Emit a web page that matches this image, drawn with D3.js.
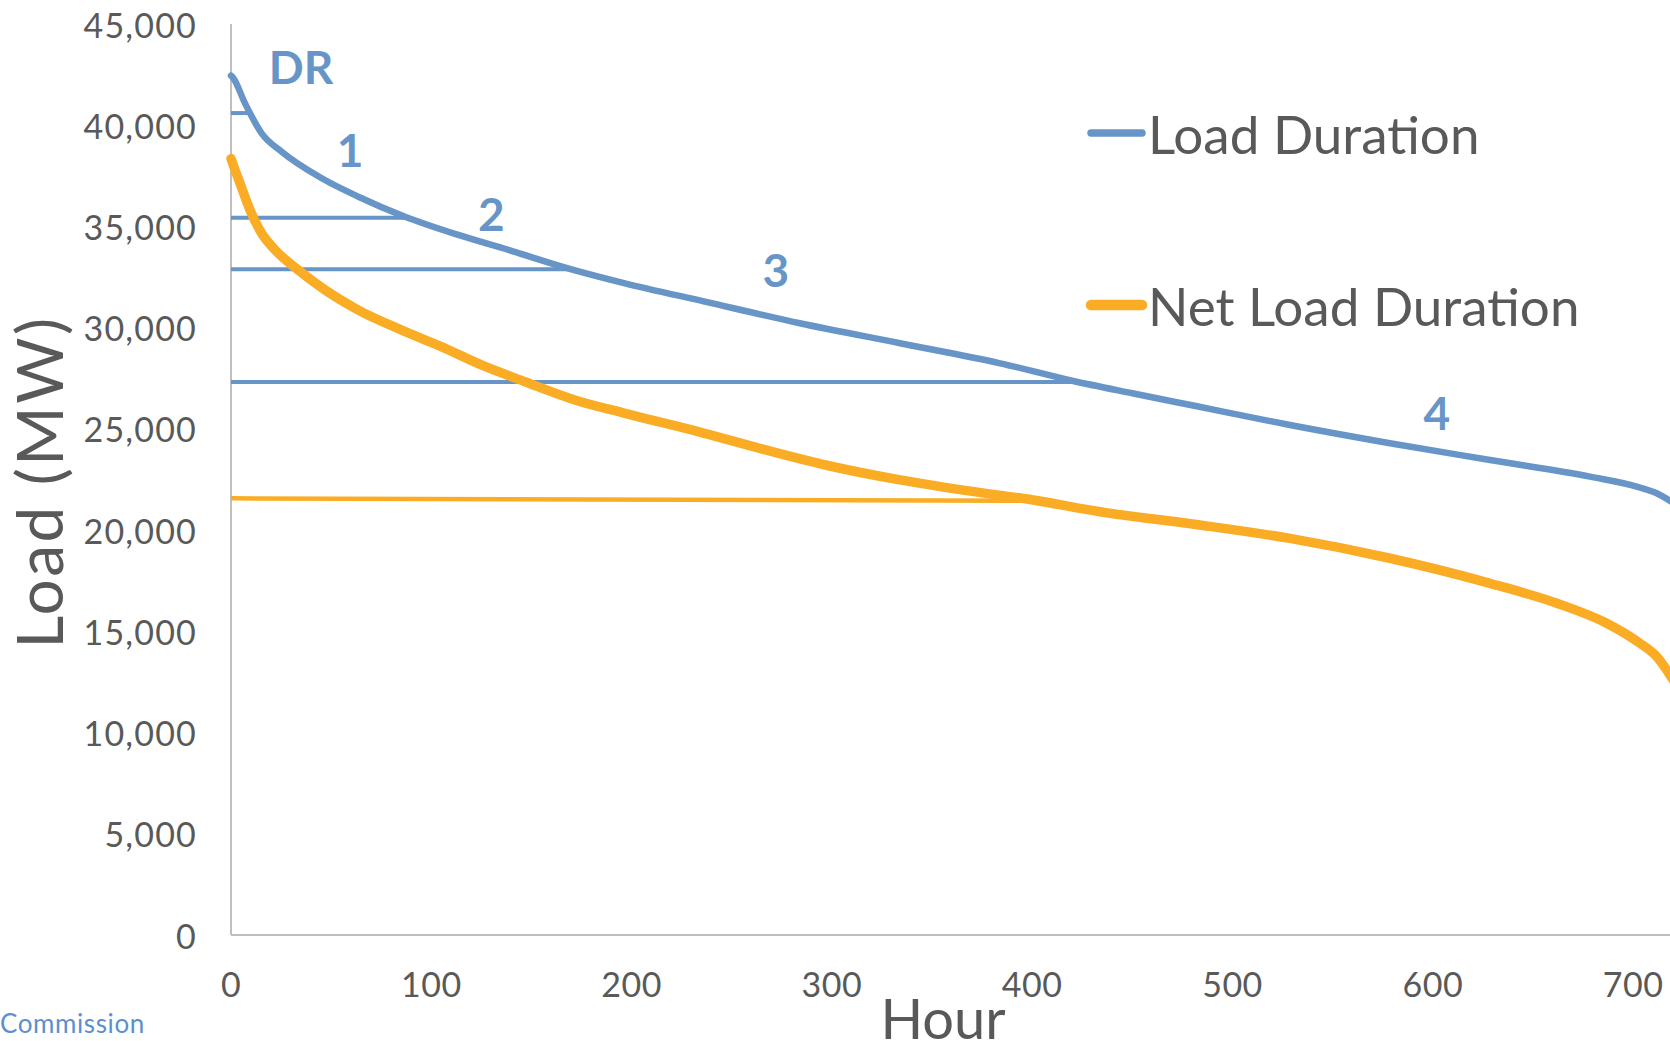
<!DOCTYPE html>
<html>
<head>
<meta charset="utf-8">
<script src="https://cdn.jsdelivr.net/npm/d3@7"></script>
<style>
  html, body { margin: 0; padding: 0; background: #ffffff; overflow: hidden; }
  svg { display: block; }
</style>
</head>
<body>
<svg id="chart" width="1670" height="1041"></svg>
<script>
// ---------------- DATA ----------------
const yTicks = [0, 5000, 10000, 15000, 20000, 25000, 30000, 35000, 40000, 45000];
const xTicks = [0, 100, 200, 300, 400, 500, 600, 700];

const loadHours = [0, 1.2, 7, 15.3, 25.3, 45.3, 63.6, 86.9, 113.5, 138.5, 170, 196.7, 236, 284, 334, 384, 420, 450, 481, 528.7, 578.6, 628.6, 678.5, 701.8, 711.8, 720];
const loadMW    = [42450, 42320, 41080, 39600, 38690, 37380, 36470, 35480, 34580, 33840, 32880, 32190, 31300, 30220, 29230, 28240, 27380, 26760, 26140, 25190, 24290, 23460, 22640, 22150, 21820, 21350];

const netHours = [0, 1.6, 4.5, 9.5, 15.3, 22, 33.6, 47, 63.6, 85, 105, 125, 146.8, 171.7, 196.7, 235, 267.4, 300.7, 334, 367.3, 400.5, 433.8, 481, 528.7, 578.6, 628.6, 661.9, 686.8, 703.4, 711.8, 720];
const netMW    = [38350, 37900, 37130, 35810, 34660, 33840, 32850, 31860, 30870, 29890, 29060, 28160, 27330, 26430, 25770, 24820, 23950, 23130, 22480, 21950, 21490, 20910, 20290, 19590, 18610, 17370, 16390, 15400, 14410, 13750, 12600];

// DR / tier threshold lines on the load duration curve
const tierMW      = [40600, 35430, 32880, 27310];
const tierEndHour = [9, 88, 170, 422];
// threshold on the net load duration curve
const netTierMW    = [21570, 21450];
const netTierHours = [0, 404];

// tier labels
const tierLabels    = ["DR", "1", "2", "3", "4"];
const tierLabelHour = [35, 59.5, 130, 272, 602];
const tierLabelMW   = [42900, 38800, 35650, 32850, 25800];

const seriesNames = ["Load Duration", "Net Load Duration"];

// ---------------- LAYOUT ----------------
const BLUE = "#6795c8";
const ORANGE = "#f9ac24";
const TEXT = "#595959";
const AXIS = "#bfbfbf";
const FONT = "Lato, 'Open Sans', sans-serif";

const svg = d3.select("#chart");
const x = d3.scaleLinear().domain([0, 720]).range([231, 231 + 720 * 2.003]);
const y = d3.scaleLinear().domain([0, 45000]).range([935, 24]);

// axes lines
svg.append("line").attr("x1", x(0)).attr("x2", 1670).attr("y1", y(0)).attr("y2", y(0))
  .attr("stroke", AXIS).attr("stroke-width", 2);
svg.append("line").attr("x1", x(0)).attr("x2", x(0)).attr("y1", y(0)).attr("y2", y(45000))
  .attr("stroke", AXIS).attr("stroke-width", 2);

// y tick labels
const fmt = d3.format(",");
svg.append("g").selectAll("text").data(yTicks).join("text")
  .attr("x", 197).attr("y", d => y(d))
  .attr("text-anchor", "end").attr("dominant-baseline", "central")
  .attr("font-family", FONT).attr("font-size", 34).attr("fill", TEXT)
  .attr("letter-spacing", 1.2)
  .text(d => fmt(d));

// x tick labels
svg.append("g").selectAll("text").data(xTicks).join("text")
  .attr("x", d => x(d)).attr("y", 983)
  .attr("text-anchor", "middle").attr("dominant-baseline", "central")
  .attr("font-family", FONT).attr("font-size", 34).attr("fill", TEXT)
  .attr("letter-spacing", 0.5)
  .text(d => d);

// axis titles
svg.append("text")
  .attr("transform", `translate(63, 482) rotate(-90)`)
  .attr("text-anchor", "middle")
  .attr("font-family", FONT).attr("font-size", 64).attr("fill", TEXT)
  .attr("letter-spacing", 2.5)
  .text("Load (MW)");
svg.append("text")
  .attr("x", 943).attr("y", 1039)
  .attr("text-anchor", "middle")
  .attr("font-family", FONT).attr("font-size", 56).attr("fill", TEXT)
  .text("Hour");

// source fragment bottom-left
svg.append("text")
  .attr("x", 0).attr("y", 1033)
  .attr("font-family", FONT).attr("font-size", 26).attr("fill", "#5b8fd0")
  .attr("letter-spacing", 0.6)
  .text("Commission");

// threshold lines
const tiers = tierMW.map((v, i) => ({ v, end: tierEndHour[i] }));
svg.append("g").selectAll("line").data(tiers).join("line")
  .attr("x1", x(0)).attr("x2", d => x(d.end))
  .attr("y1", d => y(d.v)).attr("y2", d => y(d.v))
  .attr("stroke", BLUE).attr("stroke-width", 4);

svg.append("line")
  .attr("x1", x(netTierHours[0])).attr("x2", x(netTierHours[1]))
  .attr("y1", y(netTierMW[0])).attr("y2", y(netTierMW[1]))
  .attr("stroke", ORANGE).attr("stroke-width", 4.5);

// curves
const line = d3.line().x(d => x(d[0])).y(d => y(d[1])).curve(d3.curveMonotoneX);
const loadData = loadHours.map((h, i) => [h, loadMW[i]]);
const netData = netHours.map((h, i) => [h, netMW[i]]);

svg.append("path").datum(netData)
  .attr("d", line).attr("fill", "none")
  .attr("stroke", ORANGE).attr("stroke-width", 9.5)
  .attr("stroke-linecap", "round").attr("stroke-linejoin", "round");

svg.append("path").datum(loadData)
  .attr("d", line).attr("fill", "none")
  .attr("stroke", BLUE).attr("stroke-width", 6.5)
  .attr("stroke-linecap", "round").attr("stroke-linejoin", "round");

// tier labels
svg.append("g").selectAll("text").data(tierLabels).join("text")
  .attr("x", (d, i) => x(tierLabelHour[i]))
  .attr("y", (d, i) => y(tierLabelMW[i]))
  .attr("text-anchor", "middle").attr("dominant-baseline", "central")
  .attr("font-family", FONT).attr("font-weight", "bold")
  .attr("font-size", 46).attr("fill", BLUE)
  .text(d => d);

// legend
const legendColors = [BLUE, ORANGE];
const legendWidths = [7.5, 10.5];
const legendY = [133, 305];
const lg = svg.append("g").selectAll("g").data(seriesNames).join("g")
  .attr("transform", (d, i) => `translate(0, ${legendY[i]})`);
lg.append("line").attr("x1", 1091).attr("x2", 1142).attr("y1", 0).attr("y2", 0)
  .attr("stroke", (d, i) => legendColors[i]).attr("stroke-width", (d, i) => legendWidths[i])
  .attr("stroke-linecap", "round");
lg.append("text").attr("x", 1148).attr("y", 0)
  .attr("dominant-baseline", "central")
  .attr("font-family", FONT).attr("font-size", 53).attr("fill", TEXT)
  .text(d => d);
</script>
</body>
</html>
